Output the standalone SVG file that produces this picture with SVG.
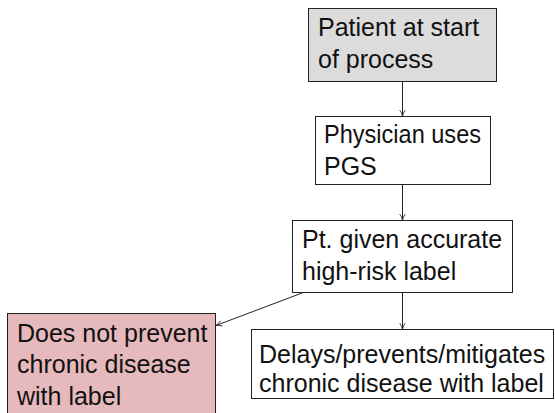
<svg xmlns="http://www.w3.org/2000/svg" width="555" height="413" viewBox="0 0 555 413">
<defs>
<style>
.box{stroke:#222;stroke-width:1}
.t{font-family:"Liberation Sans",Arial,sans-serif;font-size:25px;fill:#111}
.c{stroke:#222;stroke-width:1;fill:none}
</style>
<marker id="ah" viewBox="0 0 10 10" refX="9.5" refY="5" markerWidth="7" markerHeight="7" markerUnits="userSpaceOnUse" orient="auto">
<path d="M1,1 Q5,4 9.5,5 Q5,6 1,9" fill="none" stroke="#222" stroke-width="1.2"/>
</marker>
</defs>
<rect width="555" height="413" fill="#fff"/>
<g id="n1">
<rect class="box" x="308.5" y="8.5" width="188" height="73" fill="#dcdcdc"/>
<text class="t" x="318" y="36">Patient at start</text>
<text class="t" x="318" y="68">of process</text>
</g>
<g id="n2">
<rect class="box" x="315.5" y="116.5" width="175" height="68" fill="#fff"/>
<text class="t" x="324" y="143" textLength="157" lengthAdjust="spacingAndGlyphs">Physician uses</text>
<text class="t" x="324" y="175">PGS</text>
</g>
<g id="n3">
<rect class="box" x="292.5" y="220.5" width="220" height="72" fill="#fff"/>
<text class="t" x="302" y="248">Pt. given accurate</text>
<text class="t" x="302" y="280">high-risk label</text>
</g>
<g id="n4">
<rect class="box" x="7.5" y="313.5" width="208" height="110" fill="#e6b9bc"/>
<text class="t" x="17" y="342">Does not prevent</text>
<text class="t" x="17" y="373">chronic disease</text>
<text class="t" x="17" y="405">with label</text>
</g>
<g id="n5">
<rect class="box" x="251.5" y="329.5" width="302" height="69" fill="#fff"/>
<text class="t" x="259" y="363">Delays/prevents/mitigates</text>
<text class="t" x="259" y="392">chronic disease with label</text>
</g>
<g id="connectors">
<line class="c" x1="402.5" y1="82" x2="402.5" y2="116" marker-end="url(#ah)"/>
<line class="c" x1="402.5" y1="185" x2="402.5" y2="220" marker-end="url(#ah)"/>
<line class="c" x1="402.5" y1="293" x2="402.5" y2="329" marker-end="url(#ah)"/>
<line class="c" x1="302" y1="293" x2="216" y2="325.5" marker-end="url(#ah)"/>
</g>
</svg>
